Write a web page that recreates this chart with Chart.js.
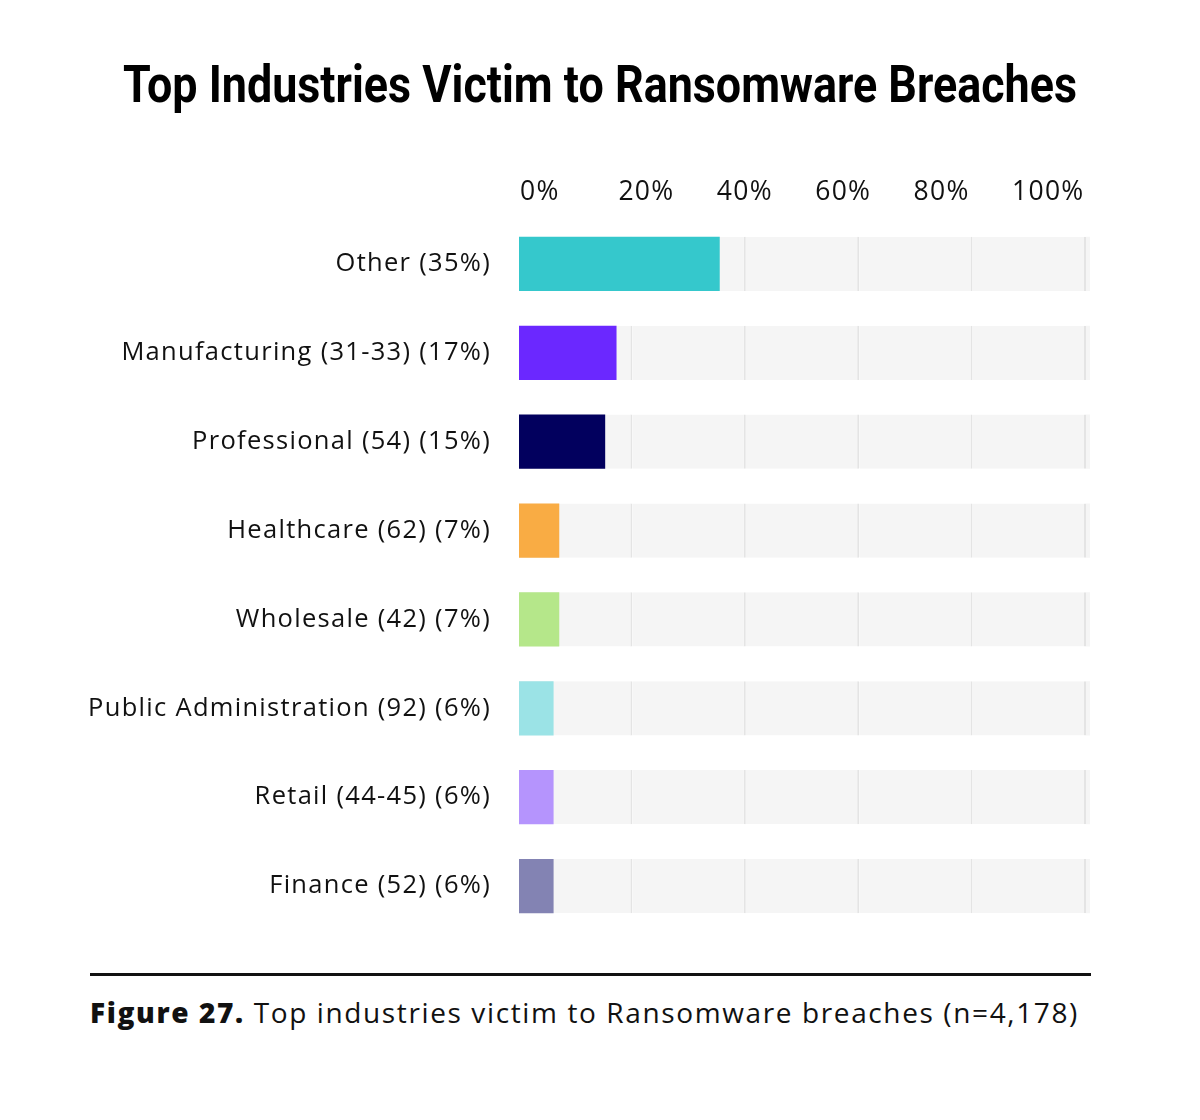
<!DOCTYPE html>
<html>
<head>
<meta charset="utf-8">
<script src="https://cdn.jsdelivr.net/npm/chart.js@4.4.1/dist/chart.umd.min.js"></script>
<style>
    body { margin: 0; width: 1200px; height: 1120px; background: #fff; position: relative; font-family: "Open Sans", "Noto Sans", sans-serif; color: #111; overflow: hidden; }
    #title { position: absolute; top: 54px; left: 0; width: 1200px; text-align: center; line-height: 60px; color: #000; }
    #title span { display: inline-block; font: bold 52px Roboto, sans-serif; white-space: nowrap; transform-origin: center; }
    #wrap { position: absolute; left: 0; top: 140px; width: 1200px; height: 800px; }
    #rule { position: absolute; left: 90px; top: 973px; width: 1001px; height: 3px; background: #111; }
    #caption { position: absolute; left: 90px; top: 993px; font-size: 28px; letter-spacing: 1.62px; white-space: nowrap; }
    #caption b { font-weight: 800; }
</style>
</head>
<body>
<div id="title"><span id="titleText">Top Industries Victim to Ransomware Breaches</span></div>
<div id="wrap"><canvas id="ransomChart"></canvas></div>
<div id="rule"></div>
<div id="caption"><b>Figure 27.</b> Top industries victim to Ransomware breaches (n=4,178)</div>
<script>
// --- Data ---
const industries = [
    'Other (35%)',
    'Manufacturing (31-33) (17%)',
    'Professional (54) (15%)',
    'Healthcare (62) (7%)',
    'Wholesale (42) (7%)',
    'Public Administration (92) (6%)',
    'Retail (44-45) (6%)',
    'Finance (52) (6%)'
];
const shares = [35.4, 17.2, 15.2, 7.1, 7.1, 6.1, 6.1, 6.1];
const barColors = ['#35C8CC', '#6B28FF', '#02005E', '#F9AC44', '#B5E78A', '#9BE3E6', '#B594FD', '#8383B3'];
const tickValues = [0, 20, 40, 60, 80, 100];
// grey track behind every bar, cut into pieces so each piece ends on a grid line
const trackPieces = [20, 20, 20, 20, 20, 0.7];

// --- Condensed title: squeeze Roboto Bold to the reference width ---
const titleEl = document.getElementById('titleText');
titleEl.style.transform = `scaleX(${954 / titleEl.offsetWidth})`;

// --- Track datasets (drawn behind the bars) ---
const trackDatasets = trackPieces.map((piece, i) => ({
    data: industries.map(() => piece),
    stack: 'track',
    order: 1,
    backgroundColor: '#F5F5F5',
    borderColor: '#E4E4E4',
    borderWidth: i < trackPieces.length - 1 ? { top: 0, right: 2, bottom: 0, left: 0 } : 0,
    borderSkipped: false
}));

// wider letter spacing so the labels match the reference font's width
const letterSpacingPlugin = {
    id: 'letterSpacing',
    beforeDraw: chart => { chart.ctx.letterSpacing = '1.3px'; }
};

const ctx = document.getElementById('ransomChart').getContext('2d');
new Chart(ctx, {
    type: 'bar',
    data: {
        labels: industries,
        datasets: [
            {
                label: 'Share', data: shares, backgroundColor: barColors,
                stack: 'value', order: 0, grouped: false, borderWidth: 0
            },
            ...trackDatasets
        ]
    },
    options: {
        indexAxis: 'y',
        responsive: true, maintainAspectRatio: false, animation: false,
        layout: { padding: { left: 0, right: 110, top: 0, bottom: 9.5 } },
        datasets: { bar: { categoryPercentage: 1, barPercentage: 0.61 } },
        scales: {
            x: { type: 'linear', min: 0, max: 100.7, stacked: true, display: false },
            // tick labels sit on their own axis, left-aligned and spaced a bit tighter than the grid
            xTop: {
                type: 'linear', position: 'top', min: -0.2, max: 115.85,
                grid: { display: false, drawTicks: false }, border: { display: false },
                ticks: { color: '#111', padding: 11.5, align: 'start', font: { family: 'Open Sans', size: 26.5 }, callback: v => v + '%' },
                afterBuildTicks: scale => { scale.ticks = tickValues.map(v => ({ value: v })); },
                afterFit: scale => { scale.height = 79.5; }
            },
            y: {
                grid: { display: false, drawTicks: false }, border: { display: false },
                ticks: { color: '#111', padding: 28, font: { family: 'Open Sans', size: 25.5 } },
                afterFit: scale => {
                    scale.width = 519;
                    scale.paddingTop = 0;
                    scale.paddingBottom = 0;
                }
            }
        },
        plugins: {
            legend: { display: false },
            tooltip: { enabled: false }
        }
    },
    plugins: [letterSpacingPlugin]
});
</script>
</body>
</html>
